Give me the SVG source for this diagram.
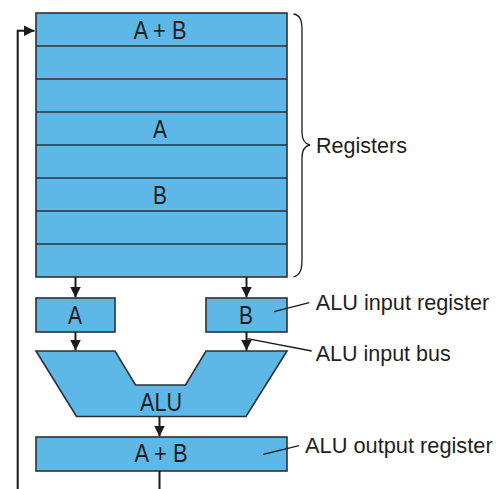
<svg xmlns="http://www.w3.org/2000/svg" width="503" height="489" viewBox="0 0 503 489">
<style>
.box{fill:#5db7e7;stroke:#2c3136;stroke-width:1.6}
.sep{stroke:#2c3136;stroke-width:1.6}
.t{font-family:"Liberation Sans",Arial,sans-serif;font-size:25px;fill:#231f20;text-anchor:middle}
.lbl{font-family:"Liberation Sans",Arial,sans-serif;font-size:21.5px;fill:#231f20}
.wire{fill:none;stroke:#1a1a1a;stroke-width:2}
.lead{fill:none;stroke:#1a1a1a;stroke-width:1.3}
</style>
<defs>
<marker id="ah" viewBox="0 0 11 11" refX="11" refY="5.5" markerWidth="11" markerHeight="11" markerUnits="userSpaceOnUse" orient="auto">
<path d="M0,0 L11,5.5 L0,11 Z" fill="#1a1a1a"/>
</marker>
</defs>
<g id="registers">
<rect class="box" x="36" y="13" width="251" height="264"/>
<line class="sep" x1="36" y1="46" x2="287" y2="46"/>
<line class="sep" x1="36" y1="79" x2="287" y2="79"/>
<line class="sep" x1="36" y1="112" x2="287" y2="112"/>
<line class="sep" x1="36" y1="145" x2="287" y2="145"/>
<line class="sep" x1="36" y1="178" x2="287" y2="178"/>
<line class="sep" x1="36" y1="211" x2="287" y2="211"/>
<line class="sep" x1="36" y1="244" x2="287" y2="244"/>
<text class="t" x="160" y="39" textLength="53" lengthAdjust="spacingAndGlyphs">A + B</text>
<text class="t" x="160" y="138" textLength="14" lengthAdjust="spacingAndGlyphs">A</text>
<text class="t" x="160" y="204" textLength="14" lengthAdjust="spacingAndGlyphs">B</text>
</g>
<g id="regA">
<rect class="box" x="36" y="298" width="79" height="34"/>
<text class="t" x="75" y="323.5" textLength="14" lengthAdjust="spacingAndGlyphs">A</text>
</g>
<g id="regB">
<rect class="box" x="206" y="298" width="81" height="34"/>
<text class="t" x="246" y="323.5" textLength="14" lengthAdjust="spacingAndGlyphs">B</text>
</g>
<g id="alu">
<path class="box" d="M36,351 L115,351 L135.5,385 L185.5,385 L206,351 L287,351 L246,416.5 L76.5,416.5 Z"/>
<text class="t" x="161" y="410.5" textLength="42" lengthAdjust="spacingAndGlyphs">ALU</text>
</g>
<g id="out">
<rect class="box" x="36" y="437" width="251" height="34"/>
<text class="t" x="161" y="462" textLength="53" lengthAdjust="spacingAndGlyphs">A + B</text>
</g>
<g id="connectors">
<line class="wire" x1="75.5" y1="277" x2="75.5" y2="297.5" marker-end="url(#ah)"/>
<line class="wire" x1="246.5" y1="277" x2="246.5" y2="297.5" marker-end="url(#ah)"/>
<line class="wire" x1="75.5" y1="332" x2="75.5" y2="350.5" marker-end="url(#ah)"/>
<line class="wire" x1="246.5" y1="332" x2="246.5" y2="350.5" marker-end="url(#ah)"/>
<line class="wire" x1="159.5" y1="416.5" x2="159.5" y2="436.5" marker-end="url(#ah)"/>
<line class="wire" x1="159.5" y1="471" x2="159.5" y2="489"/>
<polyline class="wire" points="17.7,489 17.7,30.7 34.5,30.7" marker-end="url(#ah)"/>
</g>
<g id="labels">
<path class="lead" d="M293.5,14 C300,15 302,20 302,30 L302,132 C302,140 305,144 310,145 C305,146 302,150 302,158 L302,260 C302,270 300,275 293.5,277"/>
<text class="lbl" x="316" y="153.3" textLength="91" lengthAdjust="spacingAndGlyphs">Registers</text>
<line class="lead" x1="274" y1="311.7" x2="309.3" y2="302.7"/>
<text class="lbl" x="315.7" y="310" textLength="173.6" lengthAdjust="spacingAndGlyphs">ALU input register</text>
<line class="lead" x1="247.3" y1="338.7" x2="311.7" y2="351"/>
<text class="lbl" x="315.7" y="360.7" textLength="135" lengthAdjust="spacingAndGlyphs">ALU input bus</text>
<line class="lead" x1="263.3" y1="454.3" x2="299" y2="445.7"/>
<text class="lbl" x="305" y="452.7" textLength="187.7" lengthAdjust="spacingAndGlyphs">ALU output register</text>
</g>
</svg>
